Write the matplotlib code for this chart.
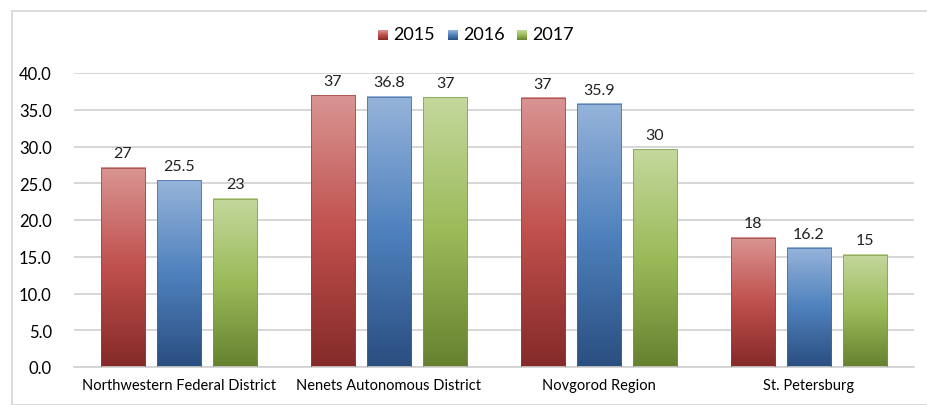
import numpy as np
import matplotlib
matplotlib.use("Agg")
import matplotlib.pyplot as plt
import matplotlib.patches as patches
from matplotlib.colors import LinearSegmentedColormap

# data
regions = ["Northwestern Federal District", "Nenets Autonomous District",
           "Novgorod Region", "St. Petersburg"]
years = ["2015", "2016", "2017"]
values_2015 = [27.1, 37.0, 36.6, 17.6]
values_2016 = [25.4, 36.8, 35.8, 16.2]
values_2017 = [22.9, 36.7, 29.6, 15.3]
labels_2015 = ["27", "37", "37", "18"]
labels_2016 = ["25.5", "36.8", "35.9", "16.2"]
labels_2017 = ["23", "37", "30", "15"]
yticks = [0, 5, 10, 15, 20, 25, 30, 35, 40]

# gradient (top, middle, bottom) per series
gradients = [("#d99593", "#c0504d", "#842a28"),
             ("#96b4da", "#4f81bd", "#2a4e80"),
             ("#c4d89d", "#9bbb59", "#65812f")]
edges = ["#9a3f3c", "#3f6aa0", "#7a9a45"]

W, H, DPI = 928, 406, 100
fig = plt.figure(figsize=(W / DPI, H / DPI), dpi=DPI)
fig.patch.set_facecolor("white")

# outer chart border
fig.add_artist(patches.Rectangle((12 / W, 0), 1, 1 - 12 / H, transform=fig.transFigure,
                                 fill=False, edgecolor="#d4d4d4", linewidth=1.2))

ax = fig.add_axes([74 / W, 1 - 368 / H, (914 - 74) / W, (368 - 74) / H])

series = [values_2015, values_2016, values_2017]
series_labels = [labels_2015, labels_2016, labels_2017]
bar_w = 0.21
step = 0.267
x = np.arange(len(regions))
grad = np.linspace(0, 1, 256).reshape(-1, 1)

for i, (vals, labs) in enumerate(zip(series, series_labels)):
  cmap = LinearSegmentedColormap.from_list("g%d" % i, list(gradients[i]))
  for xc, v, lab in zip(x + (i - 1) * step, vals, labs):
    x0 = xc - bar_w / 2
    ax.imshow(grad, cmap=cmap, extent=(x0, x0 + bar_w, 0, v), aspect="auto",
              origin="upper", zorder=2)
    ax.add_patch(patches.Rectangle((x0, 0), bar_w, v, fill=False,
                                   edgecolor=edges[i], linewidth=0.5, zorder=3))
    ax.text(xc, v + 1.0, lab, ha="center", va="bottom", fontsize=11.5,
            family="Lato", color="#222222")

ax.set_xlim(-0.5, 3.5)
ax.set_ylim(0, 40)
ax.set_yticks(yticks)
ax.set_yticklabels(["%.1f" % t for t in yticks], fontsize=12, family="Lato")
ax.set_xticks(x)
ax.set_xticklabels(regions, fontsize=10.5, family="Lato")
ax.tick_params(length=0, pad=8)
ax.tick_params(axis="y", pad=16)
ax.grid(axis="y", color="#d0d0d0", linewidth=1.2, zorder=0)
ax.set_axisbelow(True)
for s in ["top", "right", "left"]:
  ax.spines[s].set_visible(False)
ax.spines["bottom"].set_color("#d0d0d0")
ax.spines["bottom"].set_linewidth(1.2)

# legend with small gradient squares
lx = [378, 448, 517]
for i, yr in enumerate(years):
  cmap = LinearSegmentedColormap.from_list("l%d" % i, list(gradients[i]))
  lax = fig.add_axes([lx[i] / W, 1 - 41 / H, 10 / W, 10 / H])
  lax.imshow(grad, cmap=cmap, aspect="auto")
  lax.set_axis_off()
  fig.text((lx[i] + 15) / W, 1 - 35 / H, yr, ha="left", va="center",
           fontsize=13, family="Lato")

fig.savefig("out.png", dpi=DPI)
